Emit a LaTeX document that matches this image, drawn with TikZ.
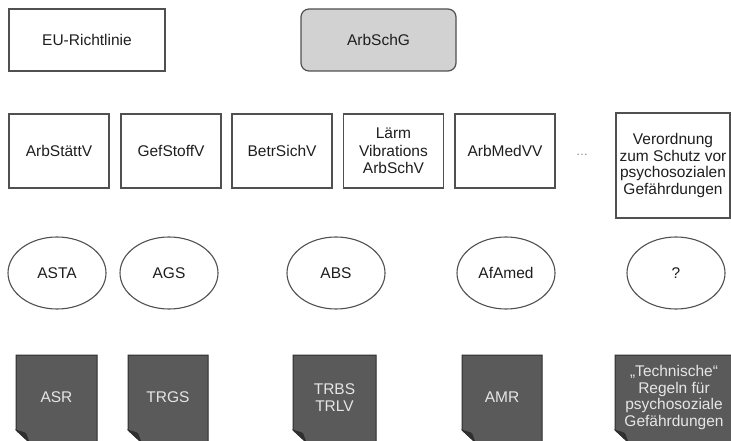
\documentclass[tikz,border=0pt]{standalone}
\usepackage{fontspec}
\setmainfont{Liberation Sans}
\usetikzlibrary{shapes.geometric}
\definecolor{edge}{HTML}{505050}
\definecolor{lightfill}{HTML}{D2D2D2}
\definecolor{docfill}{HTML}{5A5A5A}
\definecolor{docedge}{HTML}{2E2E2E}
\definecolor{flapfill}{HTML}{303030}
\definecolor{doctxt}{HTML}{E6E6E6}
\definecolor{txt}{HTML}{1E1E1E}
\newcommand\mydoc[6]{%
  \path[fill=docfill, draw=docedge, line width=1pt] (#2,#3) -- (#4,#3) -- (#4,#5) -- ({#2+13},#5) -- (#2,{#5-12}) -- cycle;
  \path[fill=flapfill, draw=docedge, line width=0.6pt] (#2,{#5-12}) .. controls ({#2+5},{#5-10}) and ({#2+9},{#5-10}) .. ({#2+10},{#5-8}) -- ({#2+13},#5) -- cycle;
  \node[doctext] (#1) at ({(#2+#4)/2},{(#3+#5)/2-1}) {#6};
}
\begin{document}
\begin{tikzpicture}[x=1pt,y=-1pt,
  font=\fontsize{15.5}{17.5}\selectfont,
  box/.style={draw=edge, line width=1.2pt, fill=white, text=txt, align=center, inner sep=0pt},
  oval/.style={ellipse, draw=edge, line width=1.1pt, fill=white, text=txt, minimum width=98pt, minimum height=72pt, inner sep=0pt},
  doctext/.style={text=doctxt, align=center, inner sep=0pt, font=\fontsize{15.5}{16.5}\selectfont}]
\useasboundingbox (0,0) rectangle (731,441);
\fill[white] (0,0) rectangle (731,441);
% top row
\node[box, minimum width=156pt, minimum height=62pt] (eu) at (87,40) {EU-Richtlinie};
\node[box, fill=lightfill, rounded corners=8pt, minimum width=155pt, minimum height=62pt] (asg) at (378.5,40) {ArbSchG};
% second row
\node[box, minimum width=100pt, minimum height=74pt] (arbst) at (59,151) {ArbStättV};
\node[box, minimum width=100pt, minimum height=74pt] (gef) at (171,151) {GefStoffV};
\node[box, minimum width=100pt, minimum height=74pt] (betr) at (282,151) {BetrSichV};
\node[box, minimum width=100pt, minimum height=74pt] (laerm) at (393.5,151) {Lärm\\Vibrations\\ArbSchV};
\node[box, minimum width=100pt, minimum height=74pt] (med) at (505,151) {ArbMedVV};
\node[text=gray, font=\fontsize{12}{13}\selectfont] (dots) at (582,155) {…};
\node[box, minimum width=114pt, minimum height=105pt, font=\fontsize{15.5}{16.7}\selectfont] (psy) at (673,165.5) {Verordnung\\zum Schutz vor\\psychosozialen\\Gefährdungen};
% ellipses
\node[oval] (asta) at (57,273) {ASTA};
\node[oval] (ags) at (169,273) {AGS};
\node[oval] (abs) at (336,273) {ABS};
\node[oval] (afamed) at (506,273) {AfAmed};
\node[oval] (q) at (676,273) {?};
% documents
\mydoc{asr}{16}{355}{97}{442}{ASR}
\mydoc{trgs}{128}{355}{208}{442}{TRGS}
\mydoc{trbs}{293}{355}{376}{442}{TRBS\\TRLV}
\mydoc{amr}{462}{355}{542}{442}{AMR}
\mydoc{tech}{615}{355}{733}{442}{„Technische“\\Regeln für\\psychosoziale\\Gefährdungen}
\end{tikzpicture}
\end{document}
